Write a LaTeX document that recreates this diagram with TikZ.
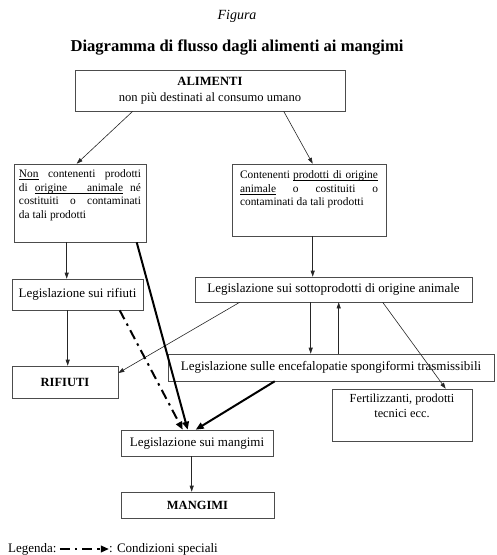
\documentclass[tikz,border=0pt]{standalone}
\usepackage{fontspec}
\setmainfont{Liberation Serif}
\usetikzlibrary{arrows.meta}
\newcommand{\ulw}[1]{\leavevmode\setbox0\hbox{#1}\rlap{\rule[-1.6pt]{\wd0}{0.5pt}}\box0\relax}
\newcommand{\uls}{\leaders\hbox{\rule[-1.6pt]{0.25pt}{0.5pt}}\hskip 0.25em plus 0.5em minus 0.08em\relax}

\begin{document}
\begin{tikzpicture}[x=1pt, y=-1pt,
	box/.style = {shape=rectangle, draw=black!70, line width=0.6pt, align=center, fill=white, inner sep=0pt, font=\fontsize{13}{15}\selectfont},
	smallbox/.style = {box, font=\fontsize{11.4}{13.5}\selectfont},
	arr/.style = {-{Triangle[length=6pt,width=4pt]}, line width=0.6pt, black!85},
	heavy/.style = {-{Triangle[length=8pt,width=6.5pt]}, line width=2pt, black},
	special/.style = {heavy, dash pattern=on 10pt off 5pt on 2.5pt off 5pt}]
	\useasboundingbox (0,0) rectangle (497,555);
	% titles
	\node (figura) at (237,16) {\fontsize{14}{16}\selectfont\itshape Figura};
	\node (titolo) at (237,47) {\fontsize{16.6}{19}\selectfont\bfseries Diagramma di flusso dagli alimenti ai mangimi};
	% boxes
	\node[box, minimum width=270pt, minimum height=41pt, font=\fontsize{12.6}{14.5}\selectfont] (alimenti) at (210,90.5)
		{\textbf{ALIMENTI}\\[2pt]non più destinati al consumo umano};
	\node[smallbox, minimum width=132pt, minimum height=78pt] (noanim) at (80,203)
		{\parbox[c][66pt][t]{122pt}{\ulw{Non} contenenti prodotti\linebreak di \ulw{origine}\uls\ulw{animale} né\linebreak costituiti o contaminati\linebreak da tali prodotti}};
	\node[smallbox, minimum width=154pt, minimum height=72pt] (conanim) at (309,200)
		{\parbox[c][58pt][t]{138pt}{Contenenti \ulw{prodotti}\uls\ulw{di}\uls\ulw{origine}\linebreak \ulw{animale} o costituiti o\linebreak contaminati da tali prodotti}};
	\node[box, minimum width=131pt, minimum height=31pt] (legrif) at (77.5,294.5) {Legislazione sui rifiuti};
	\node[box, minimum width=106pt, minimum height=32pt, font=\fontsize{12.5}{15}\selectfont\bfseries] (rifiuti) at (65,382) {RIFIUTI};
	\node[box, minimum width=277pt, minimum height=25pt] (sottoprod) at (333.5,289.5) {Legislazione sui sottoprodotti di origine animale};
	\node[box, minimum width=326pt, minimum height=27pt] (encef) at (331,367.5) {Legislazione sulle encefalopatie spongiformi trasmissibili};
	\node[box, minimum width=140pt, minimum height=52pt, font=\fontsize{12.3}{15}\selectfont] (fert) at (402,415)
		{\parbox[c][42pt][t]{130pt}{\centering Fertilizzanti, prodotti\\ tecnici ecc.}};
	\node[box, minimum width=152pt, minimum height=26pt] (legmang) at (197,443) {Legislazione sui mangimi};
	\node[box, minimum width=153pt, minimum height=26pt, font=\fontsize{12.5}{15}\selectfont\bfseries] (mangimi) at (197.5,505) {MANGIMI};
	% thin connectors
	\draw[arr] ([xshift=58pt]alimenti.south west) -- ([xshift=63pt]noanim.north west);
	\draw[arr] ([xshift=209pt]alimenti.south west) -- ([xshift=81pt]conanim.north west);
	\draw[arr] ([xshift=53pt]noanim.south west) -- ([xshift=55pt]legrif.north west);
	\draw[arr] ([xshift=56pt]legrif.south west) -- ([xshift=56pt]rifiuti.north west);
	\draw[arr] ([xshift=81pt]conanim.south west) -- ([xshift=118pt]sottoprod.north west);
	\draw[arr] ([xshift=116pt]sottoprod.south west) -- ([xshift=143pt]encef.north west);
	\draw[arr] ([xshift=171pt]encef.north west) -- ([xshift=144pt]sottoprod.south west);
	\draw[arr] ([xshift=188pt]sottoprod.south west) -- ([xshift=114pt]fert.north west);
	\draw[arr] ([xshift=45pt]sottoprod.south west) -- ([yshift=9pt]rifiuti.east);
	\draw[arr] ([xshift=71pt]legmang.south west) -- ([xshift=71pt]mangimi.north west);
	% heavy connectors
	\draw[heavy] ([xshift=123pt]noanim.south west) -- ([xshift=67pt]legmang.north west);
	\draw[heavy] ([xshift=107pt]encef.south west) -- ([xshift=75pt]legmang.north west);
	\draw[special] ([xshift=108pt]legrif.south west) -- ([xshift=62pt]legmang.north west);
	% legend
	\node[anchor=west, inner sep=0pt, font=\fontsize{13}{15}\selectfont] (legenda) at (8,549) {Legenda:};
	\node[anchor=east, inner sep=0pt, font=\fontsize{13}{15}\selectfont] (cond) at (218,549) {: Condizioni speciali};
	\draw[special, line width=2.4pt, shorten <=3pt] (legenda.east) -- (cond.west);
\end{tikzpicture}
\end{document}
